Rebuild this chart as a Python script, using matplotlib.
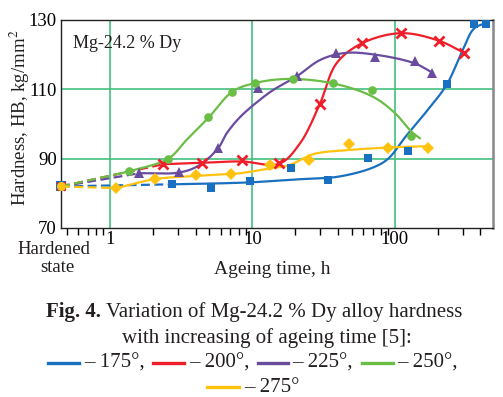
import numpy as np
import matplotlib
matplotlib.use("Agg")
import matplotlib.pyplot as plt
from matplotlib.lines import Line2D
from matplotlib.ticker import LogLocator, NullFormatter, FixedLocator, FixedFormatter

plt.rcParams['font.family'] = ['Liberation Serif', 'DejaVu Serif']
plt.rcParams['mathtext.fontset'] = 'stix'

# ---------------- data ----------------
hardened = 82.0  # hardness in the hardened state (all series)

labels = ["175°", "200°", "225°", "250°", "275°"]
colors = ["#1a70c0", "#ee1f2a", "#6a4c9f", "#6abd45", "#ffc20e"]
markers = ["s", "x", "^", "o", "D"]

# measured points (time h, hardness)
t_175 = [2.71, 5.11, 9.7, 18.8, 34, 65, 124, 233, 360, 440]
h_175 = [82.6, 81.5, 83.6, 87.4, 83.8, 90.3, 92.2, 111.5, 128.8, 128.8]
t_200 = [2.37, 4.44, 8.4, 15.4, 29.8, 59, 111, 205, 305]
h_200 = [88.4, 88.7, 89.6, 88.7, 105.8, 123.3, 126.2, 124.0, 120.6]
t_225 = [1.61, 3.06, 5.75, 11.0, 20.6, 38.5, 73, 138, 184]
h_225 = [85.8, 86.1, 93.0, 110.3, 113.8, 120.4, 119.2, 118.2, 114.8]
t_250 = [1.37, 2.57, 4.85, 7.22, 10.4, 19.3, 36.9, 69.7, 131]
h_250 = [86.4, 90.0, 102.1, 109.3, 111.9, 112.9, 111.9, 109.8, 96.5]
t_275 = [1.11, 2.07, 4.0, 7.03, 13.4, 25, 47.8, 89.8, 171]
h_275 = [81.5, 84.1, 85.3, 85.6, 88.2, 89.6, 94.2, 93.0, 93.2]

# fitted (smoothed) curve knots as drawn in the figure
ct_175 = [2.71, 5, 10, 20, 40, 70, 90, 120, 170, 233, 300, 360, 440]
ch_175 = [82.6, 82.8, 83.2, 84.0, 84.8, 87.4, 90.0, 96.5, 104.0, 111.5, 121.3, 127.5, 129.2]
ct_200 = [2.37, 4.44, 8.4, 15.4, 21.6, 29.8, 39, 59, 111, 205, 305]
ch_200 = [88.4, 88.8, 89.2, 88.5, 94.4, 105.8, 117.5, 123.3, 126.2, 124.0, 120.6]
ct_225 = [1.61, 3.06, 4.2, 5.75, 6.6, 8.2, 11, 14, 20.6, 30, 45, 73, 138, 184]
ch_225 = [85.8, 86.0, 88.0, 93.0, 97.3, 102.0, 106.6, 109.8, 113.8, 118.5, 120.5, 120.0, 117.5, 114.8]
ct_250 = [1.2, 1.37, 2.57, 3.45, 4.85, 7.22, 10.4, 18, 37, 70, 100, 131, 150]
ch_250 = [85.8, 86.4, 90.0, 95.4, 101.5, 109.3, 111.8, 113.0, 111.7, 107.9, 103.2, 97.8, 95.9]
ct_275 = [1.11, 2.07, 4.0, 7.03, 8.2, 13.4, 18.3, 26.8, 48, 100, 171]
ch_275 = [81.5, 84.1, 85.0, 85.6, 85.8, 87.2, 88.2, 91.3, 92.5, 93.3, 93.6]

points = [(t_175, h_175), (t_200, h_200), (t_225, h_225), (t_250, h_250), (t_275, h_275)]
curves = [(ct_175, ch_175), (ct_200, ch_200), (ct_225, ch_225), (ct_250, ch_250), (ct_275, ch_275)]

x_ticks = [1, 10, 100]
x_ticklabels = ["1", "10", "100"]
y_ticks = [70, 90, 110, 130]


def centripetal_cr(xs, ys, n=40, sx=142.5, sy=3.467):
    """Centripetal Catmull-Rom through knots; xs in log10 space."""
    P = np.column_stack([np.asarray(xs) * sx, np.asarray(ys) * sy]).astype(float)
    P = np.vstack([2 * P[0] - P[1], P, 2 * P[-1] - P[-2]])
    out = []
    for i in range(1, len(P) - 2):
        p0, p1, p2, p3 = P[i - 1], P[i], P[i + 1], P[i + 2]
        t0 = 0.0
        t1 = t0 + np.linalg.norm(p1 - p0) ** 0.5
        t2 = t1 + np.linalg.norm(p2 - p1) ** 0.5
        t3 = t2 + np.linalg.norm(p3 - p2) ** 0.5
        t = np.linspace(t1, t2, n, endpoint=False)[:, None]
        a1 = (t1 - t) / (t1 - t0) * p0 + (t - t0) / (t1 - t0) * p1
        a2 = (t2 - t) / (t2 - t1) * p1 + (t - t1) / (t2 - t1) * p2
        a3 = (t3 - t) / (t3 - t2) * p2 + (t - t2) / (t3 - t2) * p3
        b1 = (t2 - t) / (t2 - t0) * a1 + (t - t0) / (t2 - t0) * a2
        b2 = (t3 - t) / (t3 - t1) * a2 + (t - t1) / (t3 - t1) * a3
        c = (t2 - t) / (t2 - t1) * b1 + (t - t1) / (t2 - t1) * b2
        out.append(c)
    out.append(P[-2][None, :])
    out = np.vstack(out)
    return out[:, 0] / sx, out[:, 1] / sy


fig = plt.figure(figsize=(5.03, 3.97), dpi=100)
ax = fig.add_axes([61 / 503, 1 - 228 / 397, (493 - 61) / 503, (228 - 20) / 397])

x_left, x_right = 0.453, 490
ax.set_xscale("log")
ax.set_xlim(x_left, x_right)
ax.set_ylim(70, 130)

grid_col = "#45c07f"
for gx in x_ticks:
    ax.axvline(gx, color=grid_col, lw=1.2, zorder=1)
for gy in [90, 110]:
    ax.axhline(gy, color=grid_col, lw=1.2, zorder=1)

msize = {"s": 6.2, "^": 7, "o": 6.2, "D": 6.2}
for (pt, ph), (ct, ch), col, mk in zip(points, curves, colors, markers):
    # dashed segment from hardened state to first point
    ax.plot([x_left, ct[0]], [hardened, ch[0]], color=col, lw=1.6, ls=(0, (4, 2)), zorder=3)
    lx, ly = centripetal_cr(np.log10(ct), ch)
    ax.plot(10 ** lx, ly, color=col, lw=1.6, zorder=3)
    if mk == "x":
        ax.plot(pt, ph, ls="none", marker=mk, color=col, ms=7, mew=2, zorder=4)
    else:
        ax.plot(pt, ph, ls="none", marker=mk, color=col, ms=msize[mk], mew=0, zorder=4,
                clip_on=False)

# hardened-state point
for col, mk in zip([colors[3], colors[2], colors[0], colors[1], colors[4]], ["o", "^", "s", "x", "o"]):
    if mk == "x":
        ax.plot([x_left], [hardened], marker="x", color=col, ms=6, mew=2, clip_on=False, zorder=5)
    else:
        ax.plot([x_left], [hardened], marker=mk, color=col, ms=6.5, mew=0, clip_on=False, zorder=5)

ax.xaxis.set_major_locator(FixedLocator(x_ticks))
ax.xaxis.set_major_formatter(FixedFormatter(x_ticklabels))
ax.xaxis.set_minor_locator(LogLocator(base=10, subs=np.arange(2, 10)))
ax.xaxis.set_minor_formatter(NullFormatter())
ax.tick_params(axis="x", which="both", direction="out", length=5, width=1, labelsize=13.5, pad=2)
ax.tick_params(axis="x", which="major", length=0)
ax.set_yticks(y_ticks)
ax.tick_params(axis="y", length=0, labelsize=13.5, pad=3)

for s in ["left", "bottom", "top"]:
    ax.spines[s].set_color("#222222")
    ax.spines[s].set_linewidth(1.0)
ax.spines["right"].set_color("#888888")
ax.spines["right"].set_linewidth(1.8)

txtc = "#231f20"
ax.text(0.027, 0.93, "Mg-24.2 % Dy", transform=ax.transAxes, fontsize=13, va="top", ha="left",
        color=txtc)

fig.text(20 / 503, 1 - 118 / 397, "Hardness, HB, kg/mm$^2$", rotation=90, ha="center", va="center",
         fontsize=13.5, color=txtc)
fig.text(54 / 503, 1 - 249 / 397, "Hardened", ha="center", va="center", fontsize=13.5, color=txtc)
fig.text(57 / 503, 1 - 268 / 397, "state", ha="center", va="center", fontsize=13.5, color=txtc)
fig.text(272 / 503, 1 - 270 / 397, "Ageing time, h", ha="center", va="center", fontsize=14, color=txtc)

# caption
cap_fs = 15
fig.text(101 / 503, 1 - 312 / 397, "Fig. 4.", ha="right", va="center", fontsize=cap_fs,
         fontweight="bold", color=txtc)
fig.text(106 / 503, 1 - 312 / 397, "Variation of Mg-24.2 % Dy alloy hardness", ha="left", va="center",
         fontsize=cap_fs, color=txtc)
fig.text(267 / 503, 1 - 338 / 397, "with increasing of ageing time [5]:", ha="center", va="center",
         fontsize=cap_fs, color=txtc)

leg_items = [(47.7, 79.3, 84, 362.5, "– 175°,"), (153.3, 184.3, 189, 362.5, "– 200°,"),
             (257.7, 288.3, 292, 362.5, "– 225°,"), (361.7, 392.7, 397, 362.5, "– 250°,"),
             (207.3, 239.3, 244, 387, "– 275°")]
for (x0, x1, xt, yy, txt), col in zip(leg_items, colors):
    fig.add_artist(Line2D([x0 / 503, x1 / 503], [1 - yy / 397, 1 - yy / 397], color=col, lw=2.4,
                          transform=fig.transFigure))
    fig.text(xt / 503, 1 - (yy + 1) / 397, txt, ha="left", va="center", fontsize=cap_fs, color=txtc)

fig.savefig("out.png", dpi=100)
